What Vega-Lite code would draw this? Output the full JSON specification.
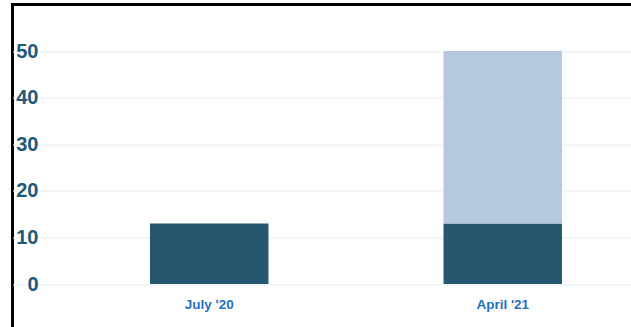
{
  "$schema": "https://vega.github.io/schema/vega-lite/v6.json",
  "autosize": "none",
  "width": 640,
  "height": 330,
  "padding": {"left": 12.5, "top": 4.5, "right": 0, "bottom": 0},
  "background": "white",
  "config": {
    "view": {"stroke": "black", "strokeWidth": 3},
    "font": "Liberation Sans"
  },
  "data": {
    "values": [
      {"period": "July '20", "series": "base", "value": 13, "rank": 1},
      {"period": "April '21", "series": "base", "value": 13, "rank": 1},
      {"period": "April '21", "series": "added", "value": 37, "rank": 2}
    ]
  },
  "mark": {"type": "bar"},
  "encoding": {
    "x": {
      "field": "period",
      "type": "nominal",
      "sort": ["July '20", "April '21"],
      "scale": {"paddingInner": 0.5963, "paddingOuter": 0.3884, "align": 0.603},
      "axis": {
        "title": null,
        "domain": false,
        "ticks": false,
        "tickSize": 0,
        "labelAngle": 0,
        "labelFont": "Liberation Sans",
        "labelFontWeight": "bold",
        "labelFontSize": 13.5,
        "labelColor": "#1f6fbf",
        "labelBaseline": "alphabetic",
        "labelPadding": -26.5
      }
    },
    "y": {
      "field": "value",
      "type": "quantitative",
      "stack": "zero",
      "scale": {"domain": [-10.84, 60], "zero": false, "nice": false},
      "axis": {
        "title": null,
        "values": [0, 10, 20, 30, 40, 50],
        "domain": false,
        "ticks": false,
        "tickSize": 0,
        "labelAlign": "right",
        "labelPadding": -25.5,
        "labelFont": "Liberation Sans",
        "labelFontWeight": "bold",
        "labelFontSize": 20,
        "labelColor": "#235879",
        "gridColor": "#e6eef7",
        "gridWidth": 1,
        "zindex": 0
      }
    },
    "color": {
      "field": "series",
      "type": "nominal",
      "scale": {"domain": ["base", "added"], "range": ["#27576f", "#b6c7e0"]},
      "legend": null
    },
    "order": {"field": "rank", "type": "quantitative"}
  }
}
